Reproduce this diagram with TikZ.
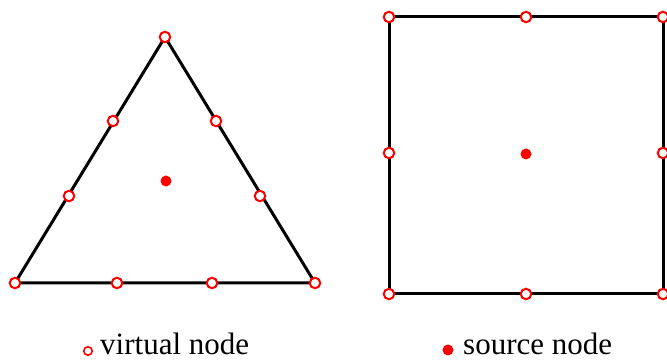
\documentclass[tikz,border=0pt]{standalone}
\usepackage{fontspec}
\setmainfont{Liberation Serif}
\begin{document}
\begin{tikzpicture}[x=1pt,y=-1pt,
  vnode/.style={circle,draw=red,fill=white,line width=2pt,inner sep=0pt,minimum size=10.5pt},
  snode/.style={circle,fill=red,inner sep=0pt,minimum size=11pt},
  edge/.style={line width=3pt,black},
  lab/.style={font=\fontsize{31}{31}\selectfont,anchor=base west,inner sep=0pt}]
\useasboundingbox (0,0) rectangle (667,363);
% triangle
\coordinate (t1) at (165,37);
\coordinate (t2) at (15,283);
\coordinate (t3) at (315,283);
\draw[edge,line join=round] (t1) -- (t2) -- (t3) -- cycle;
\node[vnode] (a1) at (t1) {};
\node[vnode] (a2) at (t2) {};
\node[vnode] (a3) at (t3) {};
\node[vnode] (a4) at (113,121) {};
\node[vnode] (a5) at (69,196) {};
\node[vnode] (a6) at (216,121) {};
\node[vnode] (a7) at (260,196) {};
\node[vnode] (a8) at (117,283) {};
\node[vnode] (a9) at (212,283) {};
\node[snode] (s1) at (166,181) {};
% square
\coordinate (q1) at (389,17);
\coordinate (q2) at (663,17);
\coordinate (q3) at (663,294);
\coordinate (q4) at (389,294);
\draw[edge] (q1) -- (q2) -- (q3) -- (q4) -- cycle;
\node[vnode] (b1) at (q1) {};
\node[vnode] (b2) at (q2) {};
\node[vnode] (b3) at (q3) {};
\node[vnode] (b4) at (q4) {};
\node[vnode] (b5) at (526,17) {};
\node[vnode] (b6) at (389,153) {};
\node[vnode] (b7) at (663,153) {};
\node[vnode] (b8) at (526,294) {};
\node[snode] (s2) at (526,154) {};
% legend
\node[vnode,minimum size=8.5pt,line width=1.6pt] (lv) at (88,351) {};
\node[lab] (lvt) at (100,355) {virtual node};
\node[snode,minimum size=11pt] (ls) at (448,350) {};
\node[lab] (lst) at (463,355) {source node};
\end{tikzpicture}
\end{document}
